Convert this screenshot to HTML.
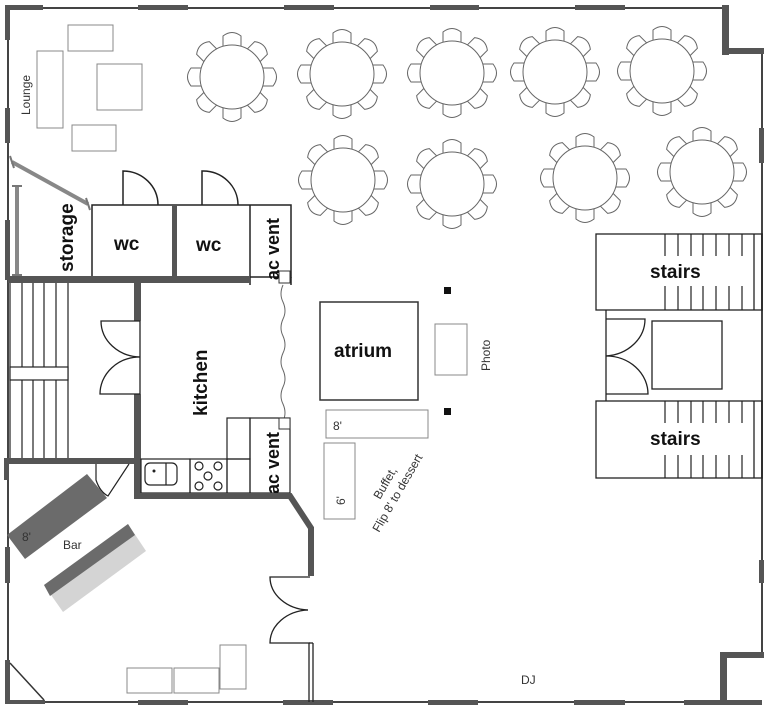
<!DOCTYPE html>
<html><head><meta charset="utf-8"><style>
html,body{margin:0;padding:0;background:#fff}
svg{display:block}
text{font-family:"Liberation Sans",sans-serif}
.b{font-weight:bold;font-size:19px;fill:#111}
.t{font-size:12px;fill:#333}
</style></head><body>
<svg width="768" height="711" viewBox="0 0 768 711" xmlns="http://www.w3.org/2000/svg">
<defs>
<g id="tbl">
  <g fill="#fff" stroke="#666" stroke-width="1">
    <g id="ch"><path d="M-9,-30 L-9,-41 Q0,-48 9,-41 L9,-30 Z"/></g>
    <use href="#ch" transform="rotate(45)"/><use href="#ch" transform="rotate(90)"/>
    <use href="#ch" transform="rotate(135)"/><use href="#ch" transform="rotate(180)"/>
    <use href="#ch" transform="rotate(225)"/><use href="#ch" transform="rotate(270)"/>
    <use href="#ch" transform="rotate(315)"/>
    <circle r="32"/>
  </g>
</g>
</defs>
<rect width="768" height="711" fill="#fff"/>
<g fill="none" stroke="#444" stroke-width="2">
  <polyline points="8,8 727,8"/>
  <polyline points="8,8 8,702 727,702"/>
  <polyline points="762,52 762,652"/>
</g>
<g fill="#555">
  <rect x="5" y="5" width="38" height="5"/><rect x="5" y="5" width="5" height="35"/>
  <rect x="138" y="5" width="50" height="5"/><rect x="284" y="5" width="50" height="5"/>
  <rect x="430" y="5" width="49" height="5"/><rect x="575" y="5" width="50" height="5"/>
  <rect x="5" y="108" width="5" height="35"/><rect x="5" y="220" width="5" height="60"/>
  <rect x="5" y="547" width="5" height="36"/><rect x="5" y="660" width="5" height="44"/>
  <rect x="5" y="700" width="40" height="4"/>
  <rect x="138" y="700" width="50" height="5"/><rect x="283" y="700" width="50" height="5"/>
  <rect x="428" y="700" width="50" height="5"/><rect x="574" y="700" width="51" height="5"/>
  <rect x="684" y="700" width="78" height="5"/>
  <rect x="722" y="5" width="7" height="50"/><rect x="722" y="48" width="42" height="6"/>
  <rect x="759" y="128" width="5" height="35"/><rect x="759" y="560" width="5" height="23"/>
  <rect x="720" y="652" width="44" height="6"/><rect x="720" y="652" width="7" height="52"/>
</g>
<polyline points="10,663 44,700" stroke="#333" stroke-width="1.5"/>
<g fill="#fff" stroke="#888" stroke-width="1">
  <rect x="68" y="25" width="45" height="26"/><rect x="37" y="51" width="26" height="77"/>
  <rect x="97" y="64" width="45" height="46"/><rect x="72" y="125" width="44" height="26"/>
</g>
<text class="t" transform="translate(30,115) rotate(-90)">Lounge</text>
<use href="#tbl" x="232" y="77"/><use href="#tbl" x="342" y="74"/><use href="#tbl" x="452" y="73"/>
<use href="#tbl" x="555" y="72"/><use href="#tbl" x="662" y="71"/>
<use href="#tbl" x="343" y="180"/><use href="#tbl" x="452" y="184"/><use href="#tbl" x="585" y="178"/>
<use href="#tbl" x="702" y="172"/>
<g stroke="#888" stroke-width="4"><line x1="12" y1="162" x2="88" y2="204"/><line x1="17" y1="186" x2="17" y2="275"/></g>
<g stroke="#777" stroke-width="2"><line x1="10" y1="156" x2="14" y2="168"/><line x1="86" y1="198" x2="90" y2="210"/>
<line x1="12" y1="186" x2="22" y2="186"/><line x1="12" y1="275" x2="22" y2="275"/></g>
<text class="b" transform="translate(73,272) rotate(-90)">storage</text>
<g fill="none" stroke="#222" stroke-width="1.5">
  <rect x="92" y="205" width="199" height="72"/>
  <line x1="250" y1="205" x2="250" y2="285"/><line x1="291" y1="277" x2="291" y2="285"/>
  <path d="M123,205 V171 A35,34 0 0 1 158,205"/><path d="M202,205 V171 A35,34 0 0 1 238,205"/>
</g>
<rect x="172" y="205" width="5" height="72" fill="#555"/>
<rect x="8" y="276" width="242" height="7" fill="#555"/>
<rect x="279" y="271" width="11" height="12" fill="#fff" stroke="#333"/>
<text class="b" x="114" y="250">wc</text><text class="b" x="196" y="251">wc</text>
<text class="b" style="font-size:18px" transform="translate(279,280) rotate(-90)">ac vent</text>
<g stroke="#222" stroke-width="1.2" fill="none">
  <line x1="10" y1="283" x2="10" y2="458"/><line x1="22" y1="283" x2="22" y2="458"/>
  <line x1="33" y1="283" x2="33" y2="458"/><line x1="44" y1="283" x2="44" y2="458"/>
  <line x1="56" y1="283" x2="56" y2="458"/><line x1="68" y1="283" x2="68" y2="458"/>
  <rect x="10" y="367" width="58" height="13" fill="#fff"/>
</g>
<rect x="134" y="283" width="7" height="38" fill="#555"/><rect x="134" y="394" width="7" height="104" fill="#555"/>
<g fill="none" stroke="#222" stroke-width="1.3">
  <path d="M140,321 H101 A40,36 0 0 0 140,357"/><path d="M140,394 H100 A40,37 0 0 1 140,357"/>
  <line x1="140" y1="321" x2="140" y2="394"/>
</g>
<rect x="4" y="458" width="137" height="6" fill="#555"/><rect x="4" y="458" width="5" height="22" fill="#555"/>
<path d="M96,464 V480 Q100,492 108,496 L129,464" fill="none" stroke="#222" stroke-width="1.2"/>
<text class="b" transform="translate(207,416) rotate(-90)">kitchen</text>
<path d="M283,285 q-4,9 0,17 q4,9 0,17 q-4,9 0,17 q4,9 0,17 q-4,9 0,17 q4,9 0,17 q-4,9 0,17 q4,9 0,17" fill="none" stroke="#666" stroke-width="1"/>
<g fill="none" stroke="#222" stroke-width="1.2">
  <rect x="141" y="459" width="49" height="34"/><rect x="190" y="459" width="37" height="34"/>
  <rect x="227" y="459" width="23" height="34"/><rect x="227" y="418" width="23" height="41"/>
  <rect x="250" y="418" width="40" height="75"/>
  <rect x="145" y="463" width="32" height="22" rx="5"/><line x1="166" y1="463" x2="166" y2="485"/>
  <circle cx="199" cy="466" r="4"/><circle cx="218" cy="466" r="4"/><circle cx="208" cy="476" r="4"/>
  <circle cx="199" cy="486" r="4"/><circle cx="218" cy="486" r="4"/>
</g>
<circle cx="154" cy="471" r="1.5" fill="#222"/>
<rect x="279" y="418" width="11" height="11" fill="#fff" stroke="#333"/>
<text class="b" style="font-size:18px" transform="translate(279,494) rotate(-90)">ac vent</text>
<path d="M134,496 H290 L311,528 V576" fill="none" stroke="#555" stroke-width="6"/>
<g fill="none" stroke="#222" stroke-width="1.3">
  <path d="M310,577 H270 A40,33 0 0 0 308,610"/><path d="M310,643 H270 A40,33 0 0 1 308,610"/>
  <line x1="309" y1="643" x2="309" y2="702"/><line x1="313" y1="643" x2="313" y2="702"/><line x1="309" y1="643" x2="313" y2="643"/>
</g>
<polygon points="7,535 87,474 107,498 25,559" fill="#6b6b6b"/>
<polygon points="44,585 128,524 146,551 63,612" fill="#d4d4d4"/>
<polygon points="44,585 128,524 135,535 50,596" fill="#6b6b6b"/>
<text class="t" x="22" y="541" font-size="13" fill="#222">8'</text>
<text class="t" x="63" y="549" font-size="13" fill="#444">Bar</text>
<g fill="#fff" stroke="#888" stroke-width="1">
  <rect x="127" y="668" width="45" height="25"/><rect x="174" y="668" width="45" height="25"/><rect x="220" y="645" width="26" height="44"/>
</g>
<rect x="320" y="302" width="98" height="98" fill="#fff" stroke="#333" stroke-width="1.5"/>
<text class="b" x="334" y="357">atrium</text>
<rect x="444" y="287" width="7" height="7" fill="#111"/><rect x="444" y="408" width="7" height="7" fill="#111"/>
<rect x="435" y="324" width="32" height="51" fill="#fff" stroke="#888"/>
<text class="t" transform="translate(490,371) rotate(-90)">Photo</text>
<rect x="326" y="410" width="102" height="28" fill="#fff" stroke="#888"/>
<text class="t" x="333" y="430">8'</text>
<rect x="324" y="443" width="31" height="76" fill="#fff" stroke="#888"/>
<text class="t" transform="translate(345,505) rotate(-90)">6'</text>
<text class="t" transform="translate(380,500) rotate(-60)">Buffet,</text>
<text class="t" transform="translate(379,533) rotate(-60)">Flip 8' to dessert</text>
<g fill="none" stroke="#222" stroke-width="1.3">
  <rect x="596" y="234" width="166" height="76"/><rect x="596" y="401" width="166" height="77"/>
  <line x1="606" y1="310" x2="606" y2="401"/>
  <rect x="652" y="321" width="70" height="68"/>
  <path d="M606,319 H645 A42,37 0 0 1 606,356"/><path d="M606,394 H648 A42,38 0 0 0 606,356"/>
  <line x1="754" y1="234" x2="754" y2="310"/><line x1="754" y1="401" x2="754" y2="478"/>
</g>
<g stroke="#222" stroke-width="1.2">
  <path d="M665,234v22M678,234v22M691,234v22M703,234v22M716,234v22M729,234v22M742,234v22
  M665,286v24M678,286v24M691,286v24M703,286v24M716,286v24M729,286v24M742,286v24
  M665,401v22M678,401v22M691,401v22M703,401v22M716,401v22M729,401v22M742,401v22
  M665,455v23M678,455v23M691,455v23M703,455v23M716,455v23M729,455v23M742,455v23"/>
</g>
<text class="b" x="650" y="278">stairs</text><text class="b" x="650" y="445">stairs</text>
<text class="t" x="521" y="684">DJ</text>
</svg>
</body></html>
